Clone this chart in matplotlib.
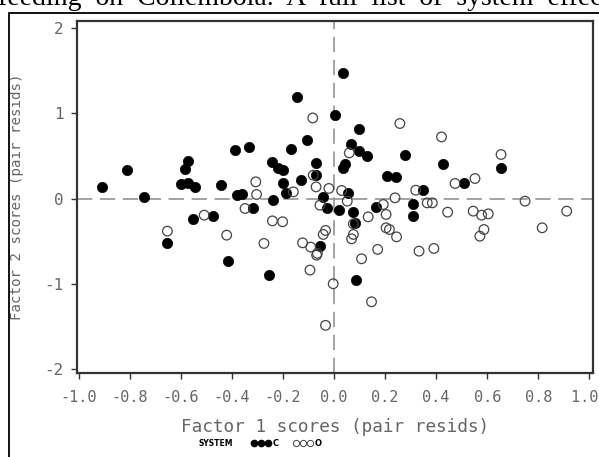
import matplotlib
matplotlib.use("Agg")
import matplotlib.pyplot as plt
from matplotlib.lines import Line2D
from matplotlib.patches import Rectangle

# system C (filled) factor scores
c_x = [-0.909, -0.811, -0.744, -0.600, -0.583, -0.570, -0.573, -0.544, -0.443, -0.387,
       -0.333, -0.381, -0.361, -0.241, -0.218, -0.201, -0.238, -0.201, -0.188, -0.168,
       -0.144, -0.130, -0.107, -0.072, -0.070, -0.042, -0.029, 0.005, 0.020, -0.551,
       -0.472, -0.652, -0.416, -0.316, -0.254, -0.055, 0.037, 0.098, 0.065, 0.098,
       0.128, 0.043, 0.036, 0.278, 0.206, 0.243, 0.425, 0.654, 0.509, 0.350,
       0.056, 0.073, 0.164, 0.308, 0.310, 0.086, 0.082]
c_y = [0.134, 0.333, 0.018, 0.173, 0.349, 0.438, 0.178, 0.138, 0.158, 0.575,
       0.602, 0.041, 0.049, 0.430, 0.360, 0.330, -0.018, 0.178, 0.061, 0.587,
       1.191, 0.213, 0.692, 0.419, 0.275, 0.021, -0.107, 0.977, -0.128, -0.243,
       -0.197, -0.524, -0.731, -0.107, -0.895, -0.556, 1.472, 0.821, 0.641, 0.556,
       0.497, 0.407, 0.360, 0.517, 0.263, 0.251, 0.411, 0.360, 0.178, 0.099,
       0.061, -0.158, -0.096, -0.061, -0.205, -0.957, -0.283]

# system O (open) factor scores
o_x = [-0.083, -0.306, -0.303, -0.348, -0.159, -0.081, -0.070, -0.020, -0.055, 0.030,
       -0.508, -0.241, -0.201, -0.652, -0.420, -0.274, -0.123, -0.091, -0.065, -0.068,
       -0.033, -0.042, -0.094, -0.003, -0.033, 0.258, 0.421, 0.654, 0.060, 0.552,
       0.474, 0.320, 0.239, 0.052, 0.193, 0.204, 0.134, 0.365, 0.385, 0.445,
       0.545, 0.578, 0.604, 0.748, 0.911, 0.147, 0.108, 0.171, 0.333, 0.391,
       0.069, 0.076, 0.204, 0.217, 0.245, 0.587, 0.571, 0.815, 0.076]
o_y = [0.945, 0.197, 0.049, -0.115, 0.080, 0.275, 0.138, 0.120, -0.076, 0.096,
       -0.193, -0.260, -0.270, -0.380, -0.427, -0.524, -0.517, -0.567, -0.640, -0.661,
       -0.372, -0.419, -0.836, -0.996, -1.483, 0.880, 0.723, 0.517, 0.536, 0.236,
       0.178, 0.099, 0.010, -0.029, -0.068, -0.185, -0.213, -0.049, -0.049, -0.158,
       -0.146, -0.193, -0.178, -0.029, -0.146, -1.207, -0.704, -0.594, -0.614, -0.583,
       -0.470, -0.419, -0.341, -0.361, -0.447, -0.361, -0.439, -0.341, -0.295]

xticks = [-1.0, -0.8, -0.6, -0.4, -0.2, 0.0, 0.2, 0.4, 0.6, 0.8, 1.0]
yticks = [-2, -1, 0, 1, 2]

mono = "DejaVu Sans Mono"
grey = "#666666"

fig = plt.figure(figsize=(5.99, 4.57), dpi=100)
ax = fig.add_axes([0.1285, 0.184, 0.8615, 0.770])

ax.axhline(0, color="#8a8a8a", lw=1.1, ls=(0, (10, 5)), zorder=1)
ax.axvline(0, color="#8a8a8a", lw=1.1, ls=(0, (10, 5)), zorder=1)

ax.scatter(c_x, c_y, s=55, c="black", edgecolors="black", linewidths=0.5, zorder=3)
ax.scatter(o_x, o_y, s=48, facecolors="none", edgecolors="#444444", linewidths=0.9, zorder=4)

ax.set_xlim(-1.006, 1.014)
ax.set_ylim(-2.04, 2.08)
ax.set_xticks(xticks)
# last label nudged left like the original, which keeps it inside the page
xlabels = [f"{v:.1f}" for v in xticks]
xlabels[-1] = xlabels[-1] + " "
ax.set_xticklabels(xlabels, family=mono, fontsize=11)
ax.set_yticks(yticks)
ax.set_yticklabels([str(v) for v in yticks], family=mono, fontsize=11.5)
ax.tick_params(direction="out", length=4.5, width=1, color="#333333",
               labelcolor=grey, pad=5)
ax.tick_params(axis="x", pad=8)
for sp in ax.spines.values():
    sp.set_color("#333333")
    sp.set_linewidth(1.6)

ax.set_xlabel("Factor 1 scores (pair resids)", family=mono, fontsize=12.8, color=grey, labelpad=9)
ax.set_ylabel("Factor 2 scores (pair resids)", family=mono, fontsize=10.2, color=grey, labelpad=15)

# legend row
fig.text(0.360, 0.030, "SYSTEM", fontsize=5.5, fontweight="bold", ha="center", va="center")
handles = [Line2D([], [], ls="none", marker="o", ms=4.5, color="black"),
           Line2D([], [], ls="none", marker="o", ms=4.5, mfc="none", mec="#444444", mew=0.7)]
fig.legend(handles, ["C", "O"], loc="center", bbox_to_anchor=(0.478, 0.030), ncol=2,
           numpoints=3, handlelength=2.3, handletextpad=0.2, columnspacing=1.8,
           prop={"size": 6, "weight": "bold"}, frameon=False, borderpad=0)

# scanned page bits: caption text above (cut by the page edge) and outer border
fig.text(-0.004, 0.988, "feeding  on  Collembola.  A  full  list  of  system  effects",
         family="Liberation Serif", fontsize=20, va="baseline", ha="left")
fig.patches.append(Rectangle((9 / 599, -0.05), 1.1, 1.05 - 13 / 457, transform=fig.transFigure,
                             fill=False, ec="black", lw=1.3))

plt.savefig("out.png", dpi=100)
